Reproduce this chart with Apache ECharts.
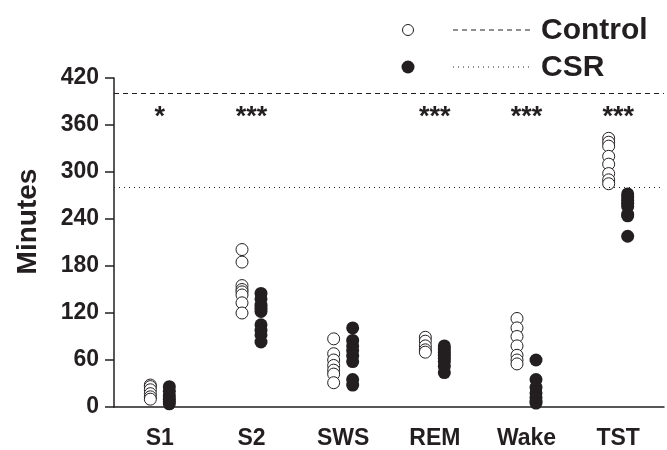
<!DOCTYPE html>
<html>
<head>
<meta charset="utf-8">
<script src="https://cdn.jsdelivr.net/npm/echarts@6/dist/echarts.min.js"></script>
<style>
  html, body { margin: 0; padding: 0; background: #fff; }
  #main { width: 667px; height: 450px; }
</style>
</head>
<body>
<div id="main"></div>
<script>
// sleep stages
var stages = ['S1', 'S2', 'SWS', 'REM', 'Wake', 'TST'];
var yTicks = [0, 60, 120, 180, 240, 300, 360, 420];

// individual minutes, one list per stage
var controlVals = [
  [28, 26, 22, 17, 13, 10],
  [201, 185, 155, 150, 147, 143, 133, 120],
  [87, 68, 60, 53, 47, 42, 31],
  [89, 84, 78, 73, 70],
  [113, 101, 90, 78, 66, 60, 55],
  [343, 338, 333, 320, 310, 298, 290, 285]
];
var csrVals = [
  [26, 20, 14, 10, 7, 4],
  [145, 138, 130, 126, 122, 105, 98, 92, 83],
  [101, 85, 78, 72, 65, 58, 35, 28],
  [78, 74, 70, 66, 62, 58, 52, 44],
  [60, 35, 25, 18, 12, 8, 5],
  [272, 268, 264, 260, 256, 246, 244, 218]
];
var signif = ['*', '***', '', '***', '***', '***'];
var controlLine = 400;
var csrLine = 280;

var font = 'Liberation Sans, Arial, sans-serif';
var ink = '#231f20';

function toPoints(groups) {
  var pts = [];
  groups.forEach(function (g, i) {
    g.forEach(function (v) { pts.push([stages[i], v]); });
  });
  return pts;
}

var chart = echarts.init(document.getElementById('main'), null, { renderer: 'canvas' });

var option = {
  animation: false,
  grid: { left: 114, right: 3, top: 78, bottom: 43 },
  xAxis: {
    type: 'category',
    data: stages,
    offset: 3,
    axisLine: { lineStyle: { color: ink, width: 1.5 } },
    axisTick: { alignWithLabel: true, length: 8, lineStyle: { color: ink, width: 1.5 } },
    axisLabel: { color: ink, fontFamily: font, fontWeight: 'bold', fontSize: 23, margin: 17 }
  },
  yAxis: {
    type: 'value',
    min: yTicks[0],
    max: yTicks[yTicks.length - 1],
    interval: 60,
    name: 'Minutes',
    nameLocation: 'middle',
    nameRotate: 90,
    nameGap: 72,
    nameTextStyle: { color: ink, fontFamily: font, fontWeight: 'bold', fontSize: 28, padding: [0, 0, 0, 42] },
    splitLine: { show: false },
    axisLine: { show: true, lineStyle: { color: ink, width: 1.5 } },
    axisTick: { show: true, length: 9, lineStyle: { color: ink, width: 1.5 } },
    axisLabel: { color: ink, fontFamily: font, fontWeight: 'bold', fontSize: 23, margin: 15 }
  },
  series: [
    {
      name: 'Control',
      type: 'scatter',
      data: toPoints(controlVals),
      symbol: 'circle',
      symbolSize: 12,
      symbolOffset: [-9.5, 0],
      itemStyle: { color: '#fff', borderColor: ink, borderWidth: 1, opacity: 1 },
      markLine: {
        silent: true,
        symbol: 'none',
        label: { show: false },
        lineStyle: { color: ink, type: [5, 4], width: 1 },
        data: [{ yAxis: controlLine }]
      }
    },
    {
      name: 'CSR',
      type: 'scatter',
      data: toPoints(csrVals),
      symbol: 'circle',
      symbolSize: 13,
      symbolOffset: [9.5, 0],
      itemStyle: { color: ink, opacity: 1 },
      markLine: {
        silent: true,
        symbol: 'none',
        label: { show: false },
        lineStyle: { color: ink, type: [1, 4], width: 1 },
        data: [{ yAxis: csrLine }]
      }
    },
    {
      name: 'sig',
      type: 'scatter',
      symbolSize: 0,
      itemStyle: { opacity: 1 },
      data: stages.map(function (s) { return [s, 370]; }),
      label: {
        show: true,
        position: 'inside',
        formatter: function (p) { return signif[p.dataIndex]; },
        color: ink,
        fontFamily: font,
        fontWeight: 'bold',
        fontSize: 27
      }
    }
  ],
  graphic: [
    { type: 'circle', shape: { cx: 408, cy: 30, r: 5.5 }, style: { fill: '#fff', stroke: ink, lineWidth: 1 } },
    { type: 'line', shape: { x1: 453, y1: 30, x2: 532, y2: 30 }, style: { stroke: ink, lineWidth: 1, lineDash: [5, 4] } },
    { type: 'text', x: 541, y: 31, style: { text: 'Control', fill: ink, font: 'bold 30px ' + font, verticalAlign: 'middle' } },
    { type: 'circle', shape: { cx: 408, cy: 67, r: 6.5 }, style: { fill: ink } },
    { type: 'line', shape: { x1: 453, y1: 67, x2: 532, y2: 67 }, style: { stroke: ink, lineWidth: 1, lineDash: [1, 4] } },
    { type: 'text', x: 541, y: 68, style: { text: 'CSR', fill: ink, font: 'bold 30px ' + font, verticalAlign: 'middle' } }
  ]
};

chart.setOption(option);
</script>
</body>
</html>
